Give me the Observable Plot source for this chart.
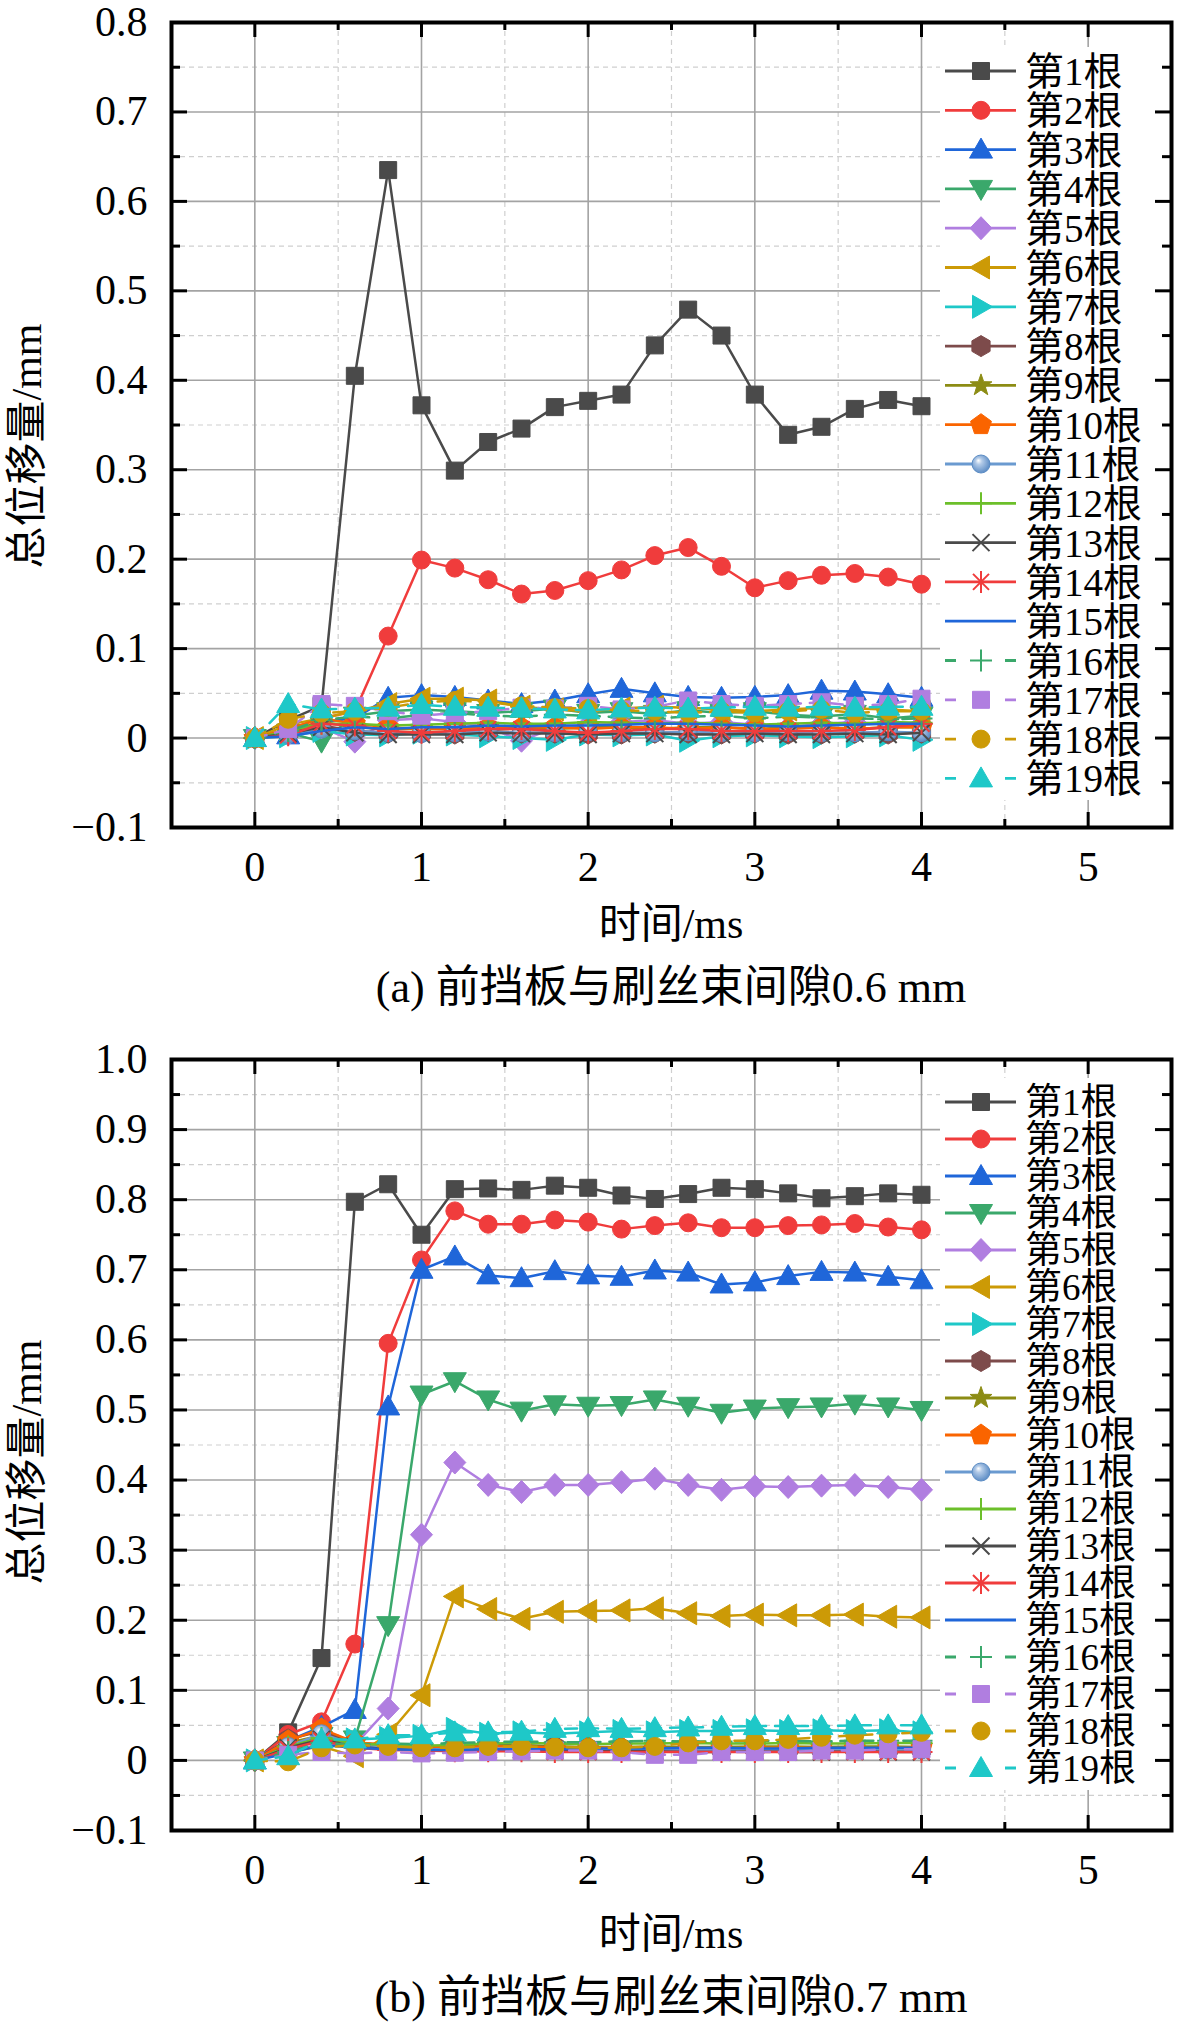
<!DOCTYPE html>
<html><head><meta charset="utf-8">
<script src="https://cdn.jsdelivr.net/npm/d3@7"></script>
<script src="https://cdn.jsdelivr.net/npm/@observablehq/plot@0.6"></script>
<style>
body{margin:0;background:#fff;}
#wrap{position:relative;width:1181px;height:2023px;overflow:hidden;font-family:"Liberation Serif","Noto Sans CJK SC",serif;color:#000;}
#wrap svg{position:absolute;left:0;}
.lbl{position:absolute;white-space:nowrap;line-height:1;transform:translate(-50%,-50%);}
.ylbl{position:absolute;white-space:nowrap;line-height:1;transform:translate(-50%,-50%) rotate(-90deg);}
</style></head>
<body><div id="wrap"></div>
<script>
// ---------- data ----------
const time = [0, 0.2, 0.4, 0.6, 0.8, 1.0, 1.2, 1.4, 1.6, 1.8, 2.0, 2.2, 2.4, 2.6, 2.8, 3.0, 3.2, 3.4, 3.6, 3.8, 4.0];
const seriesNames = ["第1根","第2根","第3根","第4根","第5根","第6根","第7根","第8根","第9根","第10根","第11根","第12根","第13根","第14根","第15根","第16根","第17根","第18根","第19根"];

// (a) gap 0.6 mm
const a01 = [0, 0.020, 0.036, 0.405, 0.635, 0.372, 0.299, 0.331, 0.346, 0.370, 0.377, 0.384, 0.439, 0.479, 0.450, 0.384, 0.339, 0.348, 0.368, 0.378, 0.371];
const a02 = [0, 0.010, 0.022, 0.030, 0.114, 0.199, 0.190, 0.177, 0.161, 0.165, 0.176, 0.188, 0.204, 0.213, 0.192, 0.168, 0.176, 0.182, 0.184, 0.180, 0.172];
const a03 = [0, 0.003, 0.018, 0.022, 0.045, 0.048, 0.046, 0.042, 0.038, 0.042, 0.049, 0.055, 0.050, 0.046, 0.045, 0.046, 0.048, 0.053, 0.052, 0.049, 0.045];
const a04 = [0, 0.006, -0.004, 0.025, 0.030, 0.032, 0.030, 0.028, 0.030, 0.033, 0.028, 0.030, 0.027, 0.031, 0.028, 0.030, 0.026, 0.024, 0.027, 0.022, 0.025];
const a05 = [0, 0.004, 0.012, -0.004, 0.020, 0.022, 0.018, 0.012, -0.003, 0.012, 0.015, 0.018, 0.020, 0.016, 0.018, 0.015, 0.012, 0.016, 0.018, 0.015, 0.016];
const a06 = [0, 0.015, 0.022, 0.030, 0.038, 0.044, 0.044, 0.042, 0.035, 0.032, 0.030, 0.033, 0.035, 0.034, 0.032, 0.030, 0.032, 0.034, 0.033, 0.032, 0.030];
const a07 = [0, 0.002, 0.008, 0.004, 0.003, 0.006, 0.004, 0.002, 0.000, -0.002, 0.004, 0.003, 0.004, -0.003, 0.002, 0.003, 0.002, 0.001, 0.002, 0.003, -0.002];
const a08 = [0, 0.006, 0.014, 0.008, 0.006, 0.006, 0.005, 0.008, 0.006, 0.006, 0.005, 0.005, 0.006, 0.006, 0.005, 0.006, 0.005, 0.005, 0.006, 0.005, 0.006];
const a09 = [0, 0.008, 0.018, 0.012, 0.010, 0.010, 0.010, 0.012, 0.010, 0.010, 0.012, 0.012, 0.010, 0.012, 0.012, 0.010, 0.012, 0.012, 0.010, 0.012, 0.012];
const a10 = [0, 0.010, 0.022, 0.016, 0.012, 0.010, 0.010, 0.012, 0.012, 0.012, 0.010, 0.012, 0.012, 0.010, 0.012, 0.010, 0.010, 0.012, 0.010, 0.012, 0.012];
const a11 = [0, 0.004, 0.010, 0.008, 0.006, 0.005, 0.006, 0.007, 0.006, 0.006, 0.007, 0.006, 0.006, 0.007, 0.006, 0.006, 0.007, 0.006, 0.006, 0.007, 0.006];
const a12 = [0, 0.008, 0.016, 0.016, 0.014, 0.015, 0.016, 0.017, 0.016, 0.016, 0.018, 0.017, 0.016, 0.017, 0.016, 0.015, 0.016, 0.017, 0.016, 0.018, 0.017];
const a13 = [0, 0.005, 0.012, 0.006, 0.004, 0.004, 0.004, 0.006, 0.005, 0.005, 0.004, 0.005, 0.005, 0.004, 0.004, 0.005, 0.004, 0.004, 0.005, 0.004, 0.006];
const a14 = [0, 0.003, 0.016, 0.014, 0.008, 0.006, 0.008, 0.010, 0.010, 0.008, 0.006, 0.008, 0.010, 0.010, 0.008, 0.008, 0.008, 0.008, 0.009, 0.012, 0.016];
const a15 = [0, 0.002, 0.008, 0.012, 0.010, 0.012, 0.012, 0.014, 0.013, 0.014, 0.014, 0.015, 0.016, 0.016, 0.015, 0.014, 0.013, 0.014, 0.015, 0.016, 0.016];
const a16 = [0, 0.008, 0.020, 0.024, 0.022, 0.026, 0.028, 0.025, 0.024, 0.026, 0.025, 0.023, 0.022, 0.024, 0.025, 0.022, 0.024, 0.023, 0.022, 0.021, 0.022];
const a17 = [0, 0.010, 0.038, 0.036, 0.030, 0.025, 0.028, 0.030, 0.034, 0.033, 0.036, 0.032, 0.035, 0.042, 0.038, 0.036, 0.038, 0.040, 0.036, 0.038, 0.044];
const a18 = [0, 0.021, 0.028, 0.030, 0.034, 0.040, 0.042, 0.040, 0.036, 0.034, 0.033, 0.031, 0.030, 0.028, 0.030, 0.028, 0.030, 0.032, 0.028, 0.030, 0.030];
const a19 = [0, 0.038, 0.032, 0.033, 0.034, 0.037, 0.035, 0.034, 0.033, 0.032, 0.031, 0.033, 0.034, 0.033, 0.034, 0.035, 0.034, 0.035, 0.034, 0.035, 0.035];

// (b) gap 0.7 mm
const b01 = [0, 0.040, 0.146, 0.797, 0.822, 0.750, 0.815, 0.816, 0.814, 0.820, 0.817, 0.806, 0.801, 0.808, 0.817, 0.815, 0.809, 0.802, 0.805, 0.809, 0.807];
const b02 = [0, 0.037, 0.055, 0.166, 0.595, 0.714, 0.784, 0.765, 0.765, 0.771, 0.768, 0.758, 0.763, 0.767, 0.760, 0.760, 0.763, 0.764, 0.766, 0.761, 0.757];
const b03 = [0, 0.028, 0.048, 0.072, 0.505, 0.700, 0.719, 0.692, 0.688, 0.698, 0.692, 0.690, 0.699, 0.696, 0.679, 0.682, 0.691, 0.697, 0.696, 0.690, 0.685];
const b04 = [0, 0.022, 0.035, 0.030, 0.193, 0.522, 0.541, 0.515, 0.499, 0.508, 0.506, 0.507, 0.515, 0.506, 0.496, 0.502, 0.504, 0.505, 0.509, 0.505, 0.500];
const b05 = [0, 0.015, 0.022, 0.022, 0.074, 0.322, 0.425, 0.393, 0.383, 0.393, 0.393, 0.397, 0.402, 0.393, 0.386, 0.391, 0.390, 0.392, 0.393, 0.390, 0.386];
const b06 = [0, 0.012, 0.020, 0.006, 0.037, 0.093, 0.234, 0.216, 0.202, 0.212, 0.213, 0.214, 0.217, 0.210, 0.206, 0.208, 0.207, 0.207, 0.208, 0.205, 0.204];
const b07 = [0, 0.015, 0.030, 0.030, 0.032, 0.035, 0.045, 0.038, 0.040, 0.038, 0.040, 0.042, 0.040, 0.042, 0.042, 0.043, 0.042, 0.043, 0.042, 0.043, 0.040];
const b08 = [0, 0.030, 0.042, 0.025, 0.022, 0.020, 0.020, 0.022, 0.022, 0.020, 0.018, 0.018, 0.017, 0.016, 0.016, 0.017, 0.016, 0.016, 0.017, 0.016, 0.016];
const b09 = [0, 0.025, 0.036, 0.025, 0.022, 0.020, 0.020, 0.021, 0.020, 0.020, 0.019, 0.019, 0.020, 0.019, 0.019, 0.020, 0.020, 0.019, 0.020, 0.020, 0.019];
const b10 = [0, 0.028, 0.045, 0.026, 0.022, 0.020, 0.019, 0.020, 0.020, 0.018, 0.018, 0.018, 0.017, 0.018, 0.017, 0.018, 0.018, 0.018, 0.017, 0.018, 0.018];
const b11 = [0, 0.020, 0.038, 0.022, 0.018, 0.016, 0.016, 0.017, 0.016, 0.016, 0.015, 0.015, 0.016, 0.015, 0.015, 0.016, 0.015, 0.015, 0.016, 0.015, 0.015];
const b12 = [0, 0.020, 0.032, 0.024, 0.022, 0.021, 0.022, 0.024, 0.025, 0.024, 0.023, 0.024, 0.024, 0.025, 0.024, 0.024, 0.025, 0.024, 0.024, 0.025, 0.025];
const b13 = [0, 0.018, 0.030, 0.020, 0.016, 0.015, 0.014, 0.015, 0.015, 0.014, 0.013, 0.013, 0.013, 0.012, 0.012, 0.013, 0.012, 0.012, 0.013, 0.012, 0.012];
const b14 = [0, 0.016, 0.028, 0.018, 0.015, 0.014, 0.013, 0.013, 0.013, 0.012, 0.012, 0.012, 0.012, 0.012, 0.012, 0.012, 0.012, 0.012, 0.012, 0.012, 0.012];
const b15 = [0, 0.010, 0.022, 0.018, 0.016, 0.015, 0.015, 0.016, 0.016, 0.016, 0.017, 0.017, 0.017, 0.018, 0.018, 0.017, 0.017, 0.018, 0.018, 0.018, 0.018];
const b16 = [0, 0.012, 0.025, 0.022, 0.024, 0.023, 0.025, 0.026, 0.027, 0.026, 0.026, 0.027, 0.028, 0.027, 0.027, 0.028, 0.028, 0.027, 0.028, 0.028, 0.028];
const b17 = [0, 0.008, 0.012, 0.010, 0.012, 0.010, 0.011, 0.012, 0.013, 0.014, 0.014, 0.012, 0.008, 0.008, 0.012, 0.012, 0.012, 0.014, 0.014, 0.016, 0.016];
const b18 = [0, -0.002, 0.018, 0.022, 0.020, 0.018, 0.018, 0.020, 0.020, 0.019, 0.018, 0.018, 0.020, 0.025, 0.028, 0.028, 0.030, 0.033, 0.036, 0.038, 0.040];
const b19 = [0, 0.006, 0.030, 0.030, 0.036, 0.036, 0.040, 0.040, 0.041, 0.045, 0.046, 0.045, 0.046, 0.047, 0.048, 0.049, 0.049, 0.049, 0.050, 0.050, 0.050];

// axis ticks and labels
const xTicks = [0, 1, 2, 3, 4, 5];
const xTickLabels = ["0", "1", "2", "3", "4", "5"];
const xMinor = [0.5, 1.5, 2.5, 3.5, 4.5];
const yTicksA = [-0.1, 0, 0.1, 0.2, 0.3, 0.4, 0.5, 0.6, 0.7, 0.8];
const yTickLabelsA = ["−0.1", "0", "0.1", "0.2", "0.3", "0.4", "0.5", "0.6", "0.7", "0.8"];
const yMinorA = [-0.05, 0.05, 0.15, 0.25, 0.35, 0.45, 0.55, 0.65, 0.75];
const yTicksB = [-0.1, 0, 0.1, 0.2, 0.3, 0.4, 0.5, 0.6, 0.7, 0.8, 0.9, 1.0];
const yTickLabelsB = ["−0.1", "0", "0.1", "0.2", "0.3", "0.4", "0.5", "0.6", "0.7", "0.8", "0.9", "1.0"];
const yMinorB = [-0.05, 0.05, 0.15, 0.25, 0.35, 0.45, 0.55, 0.65, 0.75, 0.85, 0.95];
const xTitle = "时间/ms";
const yTitle = "总位移量/mm";
const captionA = "(a) 前挡板与刷丝束间隙0.6 mm";
const captionB = "(b) 前挡板与刷丝束间隙0.7 mm";

// ---------- styles ----------
const colors = ["#4a4a4a","#f03c3c","#1f66d9","#3aa86b","#b07ee0","#cc9a06","#1ec8c8","#7d4b4b","#8c8c14","#fa6400","#6a9ad0","#6cbf2a","#4a4a4a","#f03c3c","#1f66d9","#3aa86b","#b07ee0","#cc9a06","#1ec8c8"];
const symbolKeys = ["square","circle","triUp","triDown","diamond","triLeft","triRight","hexagon","star","pentagon","sphere","plus","times","asterisk",null,"plus","square","circle","triUp"];
const dashed = [0,0,0,0,0,0,0,0,0,0,0,0,0,0,0,1,1,1,1];

function mk(fn){ return {draw(c, size){ const k = Math.sqrt(size/Math.PI)/9; fn(c, k); }}; }
function poly(pts){ return mk((c,k)=>{ pts.forEach(([x,y],i)=> i ? c.lineTo(x*k,y*k) : c.moveTo(x*k,y*k)); c.closePath(); }); }
function regular(n, r, rot){ const p=[]; for(let i=0;i<n;i++){ const a=rot+i*2*Math.PI/n; p.push([r*Math.cos(a), r*Math.sin(a)]); } return poly(p); }
function starPts(){ const p=[]; for(let i=0;i<10;i++){ const a=-Math.PI/2+i*Math.PI/5; const r=i%2?4.6:11.5; p.push([r*Math.cos(a), r*Math.sin(a)]); } return p; }
function segs(list){ return mk((c,k)=>{ list.forEach(([x1,y1,x2,y2])=>{ c.moveTo(x1*k,y1*k); c.lineTo(x2*k,y2*k); }); }); }
const circleSym = mk((c,k)=>{ const r=9*k; c.moveTo(r,0); c.arc(0,0,r,0,2*Math.PI); c.closePath(); });
const SYM = {
  square: mk((c,k)=>{ const h=8.5*k; c.rect(-h,-h,2*h,2*h); }),
  circle: circleSym,
  sphere: circleSym,
  triUp: poly([[0,-11.5],[11.5,8.5],[-11.5,8.5]]),
  triDown: poly([[0,11.5],[11.5,-8.5],[-11.5,-8.5]]),
  diamond: poly([[0,-11.5],[11,0],[0,11.5],[-11,0]]),
  triLeft: poly([[-11.5,0],[8.5,-11.5],[8.5,11.5]]),
  triRight: poly([[11.5,0],[-8.5,-11.5],[-8.5,11.5]]),
  hexagon: regular(6, 10.5, -Math.PI/2),
  pentagon: regular(5, 11, -Math.PI/2),
  star: poly(starPts()),
  plus: segs([[-11,0,11,0],[0,-11,0,11]]),
  times: segs([[-8.5,-8.5,8.5,8.5],[-8.5,8.5,8.5,-8.5]]),
  asterisk: segs([[-11,0,11,0],[0,-11,0,11],[-8,-8,8,8],[-8,8,8,-8]])
};
const strokedSym = new Set(["plus","times","asterisk"]);

// ---------- layout ----------
const W = 1181, mL = 171, mR = 10, plotW = W - mL - mR;
const xDomain = [-0.5, 5.5];

function buildPanel(cfg){
  const plotH = cfg.plotH;
  const marks = [];
  marks.push(Plot.gridX(xMinor, {stroke:"#cfcfcf", strokeOpacity:1, strokeWidth:1.2, strokeDasharray:"5,4"}));
  marks.push(Plot.gridY(cfg.yMinor, {stroke:"#cfcfcf", strokeOpacity:1, strokeWidth:1.2, strokeDasharray:"5,4"}));
  marks.push(Plot.gridX(xTicks, {stroke:"#a3a3a3", strokeOpacity:1, strokeWidth:1.6}));
  marks.push(Plot.gridY(cfg.yTicks, {stroke:"#a3a3a3", strokeOpacity:1, strokeWidth:1.6}));
  cfg.series.forEach((vals, i) => {
    const rows = time.map((t, j) => ({t, v: vals[j]}));
    marks.push(Plot.line(rows, {x:"t", y:"v", stroke: colors[i], strokeWidth: 2.5, strokeDasharray: dashed[i] ? "12,9" : null}));
    const key = symbolKeys[i];
    if (key) {
      const stroked = strokedSym.has(key);
      marks.push(Plot.dot(rows, {x:"t", y:"v", r: 9, symbol: SYM[key],
        fill: stroked ? "none" : (key === "sphere" ? `url(#${cfg.gradId})` : colors[i]),
        stroke: key === "sphere" ? "#5b8cc4" : colors[i],
        strokeWidth: stroked ? 2 : 1}));
    }
  });
  // legend (inside frame, upper right)
  marks.push(() => {
    const g = d3.create("svg:g");
    const right = W - mR;
    g.append("rect").attr("x", cfg.legBoxX).attr("y", cfg.legBoxTop).attr("width", right - cfg.legBoxX).attr("height", cfg.legBoxBottom - cfg.legBoxTop).attr("fill", "#fff");
    seriesNames.forEach((name, i) => {
      const y = cfg.legFirst + i * cfg.legStep;
      const row = g.append("g");
      row.append("line").attr("x1", 945).attr("x2", 1016).attr("y1", y).attr("y2", y)
        .attr("stroke", colors[i]).attr("stroke-width", 2.8)
        .attr("stroke-dasharray", dashed[i] ? "11,49,11" : null);
      const key = symbolKeys[i];
      if (key) {
        const p = d3.path(); SYM[key].draw(p, Math.PI * 81);
        const stroked = strokedSym.has(key);
        row.append("path").attr("d", p.toString()).attr("transform", `translate(981,${y})`)
          .attr("fill", stroked ? "none" : (key === "sphere" ? `url(#${cfg.gradId})` : colors[i]))
          .attr("stroke", key === "sphere" ? "#5b8cc4" : colors[i])
          .attr("stroke-width", stroked ? 2 : 1);
      }
      row.append("text").attr("x", 1025).attr("y", y).attr("dy", "0.36em")
        .attr("text-anchor", "start")
        .attr("font-size", cfg.legFont).attr("font-family", "'Liberation Serif','Noto Sans CJK SC',serif")
        .attr("fill", "#000").text(name);
    });
    return g.node();
  });
  // inward ticks on all four sides
  const tk = {stroke:"#000", strokeWidth:3};
  marks.push(Plot.tickY(cfg.yTicks, {y: d => d, ...tk, insetRight: plotW - 16}));
  marks.push(Plot.tickY(cfg.yMinor, {y: d => d, ...tk, insetRight: plotW - 9}));
  marks.push(Plot.tickY(cfg.yTicks, {y: d => d, ...tk, insetLeft: plotW - 16}));
  marks.push(Plot.tickY(cfg.yMinor, {y: d => d, ...tk, insetLeft: plotW - 9}));
  marks.push(Plot.tickX(xTicks, {x: d => d, ...tk, insetTop: plotH - 15}));
  marks.push(Plot.tickX(xMinor, {x: d => d, ...tk, insetTop: plotH - 8}));
  marks.push(Plot.tickX(xTicks, {x: d => d, ...tk, insetBottom: plotH - 15}));
  marks.push(Plot.tickX(xMinor, {x: d => d, ...tk, insetBottom: plotH - 8}));
  marks.push(Plot.frame({stroke:"#000", strokeWidth:4}));
  // tick labels
  const yl = new Map(cfg.yTicks.map((d, i) => [d, cfg.yLabels[i]]));
  const xl = new Map(xTicks.map((d, i) => [d, xTickLabels[i]]));
  marks.push(Plot.axisY(cfg.yTicks, {anchor:"left", tickSize:0, tickPadding:24, tickFormat: d => yl.get(d), fontSize:42, fontFamily:"'Liberation Serif',serif", label:null}));
  marks.push(Plot.axisX(xTicks, {anchor:"bottom", tickSize:0, tickPadding:24, tickFormat: d => xl.get(d), fontSize:42, fontFamily:"'Liberation Serif',serif", label:null}));

  const svg = Plot.plot({
    width: W, height: cfg.mT + plotH + 80,
    marginLeft: mL, marginRight: mR, marginTop: cfg.mT, marginBottom: 80,
    x: {domain: xDomain},
    y: {domain: cfg.yDomain},
    style: {fontFamily: "'Liberation Serif',serif", fontSize: "42px", background: "transparent", overflow: "visible"},
    marks
  });
  const ns = "http://www.w3.org/2000/svg";
  const defs = document.createElementNS(ns, "defs");
  defs.innerHTML = `<radialGradient id="${cfg.gradId}" cx="0.45" cy="0.45" r="0.6" fx="0.35" fy="0.3">
    <stop offset="0" stop-color="#ffffff"/><stop offset="0.3" stop-color="#b3cbe8"/><stop offset="1" stop-color="#5587c2"/></radialGradient>`;
  svg.insertBefore(defs, svg.firstChild);
  svg.style.top = cfg.top + "px";
  return svg;
}

const wrap = document.getElementById("wrap");
wrap.appendChild(buildPanel({
  top: 4, mT: 18, plotH: 805, yDomain: [-0.1, 0.8], yTicks: yTicksA, yLabels: yTickLabelsA, yMinor: yMinorA,
  series: [a01,a02,a03,a04,a05,a06,a07,a08,a09,a10,a11,a12,a13,a14,a15,a16,a17,a18,a19],
  gradId: "sphA", legBoxX: 940, legBoxTop: 43, legBoxBottom: 796, legFirst: 67, legStep: 39.3, legFont: 39
}));
wrap.appendChild(buildPanel({
  top: 1000, mT: 59, plotH: 771, yDomain: [-0.1, 1.0], yTicks: yTicksB, yLabels: yTickLabelsB, yMinor: yMinorB,
  series: [b01,b02,b03,b04,b05,b06,b07,b08,b09,b10,b11,b12,b13,b14,b15,b16,b17,b18,b19],
  gradId: "sphB", legBoxX: 940, legBoxTop: 78, legBoxBottom: 790, legFirst: 102, legStep: 37, legFont: 37
}));

function addText(cls, txt, x, y, size){
  const d = document.createElement("div");
  d.className = cls; d.textContent = txt;
  d.style.left = x + "px"; d.style.top = y + "px"; d.style.fontSize = size + "px";
  wrap.appendChild(d);
}
addText("ylbl", yTitle, 27, 446, 42);
addText("lbl", xTitle, 671, 924, 42);
addText("lbl", captionA, 671, 988, 44);
addText("ylbl", yTitle, 27, 1462, 42);
addText("lbl", xTitle, 671, 1934, 42);
addText("lbl", captionB, 671, 1998, 44);
</script></body></html>
